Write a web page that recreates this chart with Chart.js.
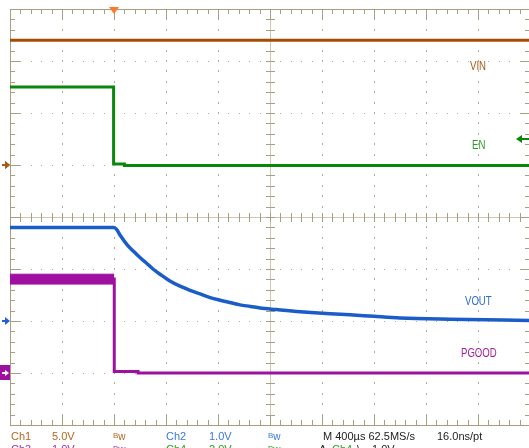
<!DOCTYPE html>
<html>
<head>
<meta charset="utf-8">
<script src="https://cdn.jsdelivr.net/npm/chart.js@4.4.1/dist/chart.umd.min.js"></script>
<style>
  html, body { margin: 0; padding: 0; background: #fff; overflow: hidden; }
  #wrap { position: relative; width: 529px; height: 448px; overflow: hidden; }
  #scope { position: absolute; left: 0; top: 0; }
  .t { position: absolute; font-family: "Liberation Sans", Arial, sans-serif; font-size: 11px; line-height: 11px; white-space: nowrap; }
  .lbl { position: absolute; font-family: "Liberation Sans", Arial, sans-serif; font-size: 12px; line-height: 12px; white-space: nowrap; transform: scaleX(0.8); transform-origin: 0 0; }
  .bw { font-size: 10px; }
  .bw span { font-size: 8px; position: relative; top: -2px; }
</style>
</head>
<body>
<div id="wrap">
  <canvas id="scope" width="530" height="448"></canvas>

  <div class="lbl" style="left:470px; top:60px; color:#a85a18;">VIN</div>
  <div class="lbl" style="left:472px; top:139px; color:#2a9a2a;">EN</div>
  <div class="lbl" style="left:465px; top:295px; color:#2f6cc8;">VOUT</div>
  <div class="lbl" style="left:461px; top:347px; color:#a020a0;">PGOOD</div>

  <div class="t" style="left:11px; top:431px; color:#b8641e;">Ch1</div>
  <div class="t" style="left:52px; top:431px; color:#b8641e;">5.0V</div>
  <div class="t bw" style="left:113px; top:431px; color:#b8641e;"><span>B</span>w</div>
  <div class="t" style="left:166px; top:431px; color:#3a78d8;">Ch2</div>
  <div class="t" style="left:209px; top:431px; color:#3a78d8;">1.0V</div>
  <div class="t bw" style="left:268px; top:431px; color:#3a78d8;"><span>B</span>w</div>
  <div class="t" style="left:323px; top:431px; color:#222;">M 400µs 62.5MS/s</div>
  <div class="t" style="left:437px; top:431px; color:#222;">16.0ns/pt</div>

  <div class="t" style="left:11px; top:444px; color:#a030a0;">Ch3</div>
  <div class="t" style="left:52px; top:444px; color:#a030a0;">1.0V</div>
  <div class="t bw" style="left:113px; top:444px; color:#a030a0;"><span>B</span>w</div>
  <div class="t" style="left:166px; top:444px; color:#2a9a2a;">Ch4</div>
  <div class="t" style="left:209px; top:444px; color:#2a9a2a;">2.0V</div>
  <div class="t bw" style="left:268px; top:444px; color:#2a9a2a;"><span>B</span>w</div>
  <div class="t" style="left:319px; top:444px; color:#222;">A</div>
  <div class="t" style="left:332px; top:444px; color:#2a9a2a;">Ch4</div>
  <div class="t" style="left:357px; top:444px; color:#222;">\</div>
  <div class="t" style="left:372px; top:444px; color:#222;">1.0V</div>
</div>

<script>
// time base 400 us/div, trigger at the 2nd division
const timeTicks = [-800, -400, 0, 400, 800, 1200, 1600, 2000, 2400, 2800, 3200];
const divTicks = [-4, -3, -2, -1, 0, 1, 2, 3, 4];

// channel setup: VIN = Ch1, EN = Ch4, VOUT = Ch2, PGOOD = Ch3
const voltsPerDiv = [5.0, 2.0, 1.0, 1.0];
const groundDiv = [1, 1, -2, -3];
const triggerLevel = 1.0;   // Ch4 falling

const vinTime = [-800, 3200];
const vinVolts = [12.0, 12.0];

const enTime = [-800, -3, -3, 80, 80, 3200];
const enVolts = [3.0, 3.0, 0.04, 0.04, -0.02, -0.02];

const voutTime = [-800, 0, 20, 50, 100, 150, 200, 251, 300, 354, 430, 508, 585, 662, 740, 815, 900, 969, 1050, 1123, 1250, 1431, 1662, 1815, 2000, 2200, 2585, 3200];
const voutVolts = [1.80, 1.80, 1.76, 1.64, 1.47, 1.34, 1.22, 1.11, 1.00, 0.90, 0.77, 0.67, 0.59, 0.52, 0.45, 0.40, 0.35, 0.31, 0.28, 0.25, 0.22, 0.18, 0.14, 0.12, 0.09, 0.06, 0.035, 0.01];

const pgoodTime = [-800, 2, 2, 185, 185, 3200];
const pgoodVolts = [1.81, 1.81, 0.03, 0.03, 0.0, 0.0];

// noisy band while PGOOD is high
const pgoodNoiseTime = [-800, 2];
const pgoodNoiseMax = [1.90, 1.90];
const pgoodNoiseMin = [1.71, 1.71];

const colVin = "#a54c00";
const colEn = "#0a860a";
const colVout = "#1a5cc8";
const colPgood = "#a010a0";

function toPoints(times, volts) {
    return times.map(function (t, i) { return { x: t, y: volts[i] }; });
}

function voltScale(ch) {
    return {
        type: 'linear', axis: 'y', display: false,
        min: (-4 - groundDiv[ch]) * voltsPerDiv[ch],
        max: (4 - groundDiv[ch]) * voltsPerDiv[ch]
    };
}

function trace(label, times, volts, axis, color, width) {
    return {
        label: label,
        data: toPoints(times, volts),
        yAxisID: axis,
        borderColor: color,
        backgroundColor: color,
        borderWidth: width,
        pointRadius: 0,
        fill: false,
        tension: 0
    };
}

let graticule = {
    id: 'graticule',
    beforeDatasetsDraw: function (chart) {
        let c = chart.ctx;
        let xs = chart.scales.x, ds = chart.scales.div;
        let a = chart.chartArea;
        let left = Math.round(a.left), right = Math.round(a.right) - 1;
        let top = Math.round(a.top), bottom = Math.round(a.bottom);
        let cx = Math.round(xs.getPixelForValue(timeTicks[5]));
        let cy = Math.round(ds.getPixelForValue(0));
        let xStep = (timeTicks[1] - timeTicks[0]) / 5;
        c.save();

        // dotted division lines
        c.fillStyle = "#b4ac94";
        timeTicks.forEach(function (v, i) {
            if (i === 0 || i === 5 || i === timeTicks.length - 1) return;
            let px = Math.round(xs.getPixelForValue(v));
            for (let k = 1; k < 40; k++) {
                let py = Math.round(ds.getPixelForValue(-4 + k * 0.2));
                c.fillRect(px, py - 1, 1, 2);
            }
        });
        divTicks.forEach(function (v, i) {
            if (i === 0 || v === 0 || i === divTicks.length - 1) return;
            let py = Math.round(ds.getPixelForValue(v));
            for (let k = 1; k < 50; k++) {
                let px = Math.round(xs.getPixelForValue(timeTicks[0] + k * xStep));
                c.fillRect(px, py, 1, 1);
            }
        });

        // centre cross
        c.fillStyle = "#cdc6b0";
        c.fillRect(cx, top, 1, bottom - top);
        c.fillRect(left, cy, right - left, 1);

        // frame and ticks
        c.fillStyle = "#a89e80";
        c.fillRect(left, top, right - left + 1, 1);
        c.fillRect(left, bottom, right - left + 1, 1);
        c.fillRect(left, top, 1, bottom - top + 1);
        c.fillRect(right, top, 1, bottom - top + 1);
        for (let k = 1; k < 50; k++) {
            let px = Math.round(xs.getPixelForValue(timeTicks[0] + k * xStep));
            let len = (k % 5 === 0) ? 10 : 5;
            c.fillRect(px, top, 1, len);
            c.fillRect(px, bottom - len, 1, len);
            c.fillRect(px, cy - 4, 1, 9);
        }
        for (let k = 1; k < 40; k++) {
            let py = Math.round(ds.getPixelForValue(-4 + k * 0.2));
            let len = (k % 5 === 0) ? 10 : 5;
            c.fillRect(left, py, len, 1);
            c.fillRect(right - len + 1, py, len, 1);
            c.fillRect(cx - 4, py, 9, 1);
        }
        c.restore();
    },
    afterDraw: function (chart) {
        let c = chart.ctx;
        let xs = chart.scales.x, ds = chart.scales.div;
        let a = chart.chartArea;
        c.save();

        // trigger position
        let tx = Math.round(xs.getPixelForValue(0));
        c.fillStyle = "#ff7a28";
        c.beginPath();
        c.moveTo(tx - 5, a.top - 2);
        c.lineTo(tx + 5, a.top - 2);
        c.lineTo(tx, a.top + 5);
        c.closePath();
        c.fill();

        // ground markers
        function arrow(y, color) {
            c.fillStyle = color;
            c.fillRect(2, y - 1, 5, 2);
            c.beginPath();
            c.moveTo(10, y);
            c.lineTo(5, y - 4);
            c.lineTo(5, y + 4);
            c.closePath();
            c.fill();
        }
        arrow(Math.round(ds.getPixelForValue(groundDiv[1])), colEn);
        arrow(Math.round(ds.getPixelForValue(groundDiv[0])), "#b05a1a");
        arrow(Math.round(ds.getPixelForValue(groundDiv[2])), "#2060d0");

        let gy = Math.round(ds.getPixelForValue(groundDiv[3]));
        c.fillStyle = colPgood;
        c.fillRect(0, gy - 8, 10, 15);
        c.fillStyle = "#fff";
        c.fillRect(2, gy - 1, 4, 2);
        c.beginPath();
        c.moveTo(9, gy);
        c.lineTo(5, gy - 3);
        c.lineTo(5, gy + 3);
        c.closePath();
        c.fill();

        // trigger level (Ch4)
        let ly = Math.round(chart.scales.yEn.getPixelForValue(triggerLevel));
        c.fillStyle = colEn;
        c.fillRect(521, ly - 1, 9, 2);
        c.beginPath();
        c.moveTo(516, ly);
        c.lineTo(522, ly - 4);
        c.lineTo(522, ly + 4);
        c.closePath();
        c.fill();
        c.restore();
    }
};

let noiseTop = trace("PGOOD noise max", pgoodNoiseTime, pgoodNoiseMax, 'yPg', colPgood, 1);
let noiseBottom = trace("PGOOD noise min", pgoodNoiseTime, pgoodNoiseMin, 'yPg', colPgood, 1);
noiseBottom.fill = '-1';

let chart = new Chart(document.getElementById("scope"), {
    type: 'line',
    data: {
        datasets: [
            trace("VIN", vinTime, vinVolts, 'yVin', colVin, 3),
            trace("EN", enTime, enVolts, 'yEn', colEn, 3),
            Object.assign(trace("VOUT", voutTime, voutVolts, 'yVout', colVout, 3.5), { cubicInterpolationMode: 'monotone' }),
            trace("PGOOD", pgoodTime, pgoodVolts, 'yPg', colPgood, 3),
            noiseTop,
            noiseBottom
        ]
    },
    options: {
        responsive: false,
        animation: false,
        events: [],
        layout: { padding: { left: 10, top: 9, right: 0, bottom: 23 } },
        plugins: { legend: { display: false }, tooltip: { enabled: false } },
        scales: {
            x: { type: 'linear', display: false, min: timeTicks[0], max: timeTicks[timeTicks.length - 1] },
            div: { type: 'linear', axis: 'y', display: false, min: divTicks[0], max: divTicks[divTicks.length - 1] },
            yVin: voltScale(0),
            yEn: voltScale(1),
            yVout: voltScale(2),
            yPg: voltScale(3)
        }
    },
    plugins: [graticule]
});
</script>
</body>
</html>
